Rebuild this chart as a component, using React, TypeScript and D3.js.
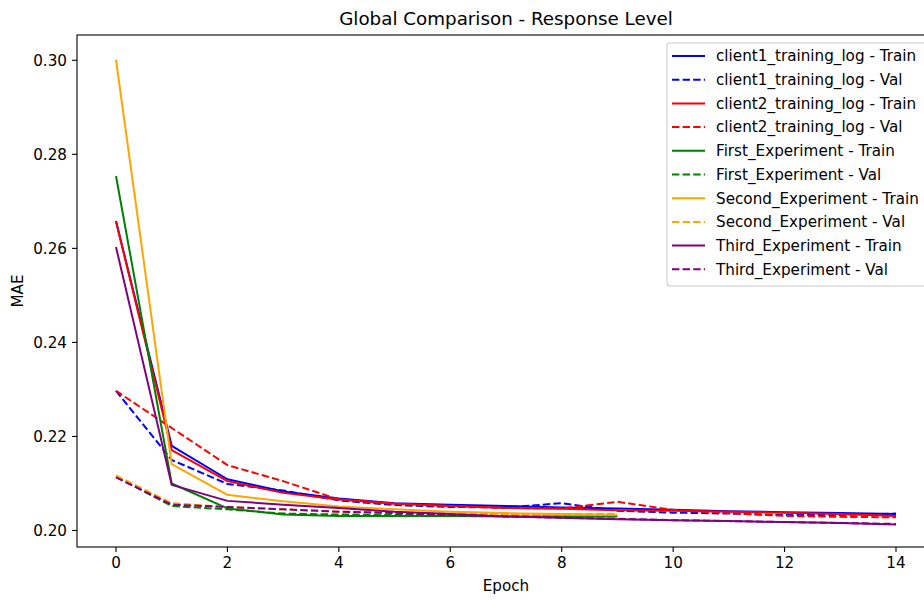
import React from "react";
import * as d3 from "d3";

const epochs15 = d3.range(0, 15);
const epochs10 = d3.range(0, 10);

const client1Train = [0.2658, 0.2180, 0.2109, 0.2083, 0.2068, 0.2058, 0.2055, 0.2052, 0.2049, 0.2047, 0.2044, 0.2041, 0.2039, 0.2037, 0.2035];
const client1Val = [0.2297, 0.2150, 0.2099, 0.2085, 0.2064, 0.2054, 0.2050, 0.2049, 0.2058, 0.2042, 0.2038, 0.2036, 0.2033, 0.2033, 0.2036];
const client2Train = [0.2657, 0.2171, 0.2105, 0.2080, 0.2066, 0.2057, 0.2052, 0.2048, 0.2046, 0.2043, 0.2042, 0.2040, 0.2038, 0.2035, 0.2031];
const client2Val = [0.2297, 0.2218, 0.2139, 0.2105, 0.2066, 0.2057, 0.2052, 0.2048, 0.2047, 0.2061, 0.2044, 0.2037, 0.2031, 0.2029, 0.2028];
const firstTrain = [0.2754, 0.2100, 0.2047, 0.2034, 0.2031, 0.2031, 0.2031, 0.2030, 0.2030, 0.2030];
const firstVal = [0.2114, 0.2052, 0.2045, 0.2036, 0.2034, 0.2033, 0.2033, 0.2034, 0.2034, 0.2034];
const secondTrain = [0.3001, 0.2141, 0.2076, 0.2062, 0.2051, 0.2045, 0.2040, 0.2037, 0.2035, 0.2033];
const secondVal = [0.2117, 0.2058, 0.2050, 0.2045, 0.2040, 0.2038, 0.2036, 0.2035, 0.2034, 0.2034];
const thirdTrain = [0.2603, 0.2097, 0.2063, 0.2055, 0.2048, 0.2040, 0.2035, 0.2030, 0.2027, 0.2024, 0.2022, 0.2020, 0.2018, 0.2016, 0.2013];
const thirdVal = [0.2113, 0.2055, 0.2050, 0.2045, 0.2040, 0.2037, 0.2033, 0.2030, 0.2027, 0.2025, 0.2022, 0.2020, 0.2018, 0.2016, 0.2014];

const xTicks = [0, 2, 4, 6, 8, 10, 12, 14];
const yTicks = [0.2, 0.22, 0.24, 0.26, 0.28, 0.3];

const series = [
  { name: "client1_training_log - Train", color: "blue", dashed: false, x: epochs15, y: client1Train },
  { name: "client1_training_log - Val", color: "blue", dashed: true, x: epochs15, y: client1Val },
  { name: "client2_training_log - Train", color: "red", dashed: false, x: epochs15, y: client2Train },
  { name: "client2_training_log - Val", color: "red", dashed: true, x: epochs15, y: client2Val },
  { name: "First_Experiment - Train", color: "green", dashed: false, x: epochs10, y: firstTrain },
  { name: "First_Experiment - Val", color: "green", dashed: true, x: epochs10, y: firstVal },
  { name: "Second_Experiment - Train", color: "orange", dashed: false, x: epochs10, y: secondTrain },
  { name: "Second_Experiment - Val", color: "orange", dashed: true, x: epochs10, y: secondVal },
  { name: "Third_Experiment - Train", color: "purple", dashed: false, x: epochs15, y: thirdTrain },
  { name: "Third_Experiment - Val", color: "purple", dashed: true, x: epochs15, y: thirdVal },
];

const W = 924;
const H = 600;
const left = 77;
const right = 935;
const top = 35;
const bottom = 547;
const font = "DejaVu Sans, sans-serif";
const DASH = "7.4,3.2";
const FS = 15.2;

export default function App() {
  const x = d3.scaleLinear().domain([-0.7, 14.7]).range([left, right]);
  const y = d3.scaleLinear().domain([0.19649, 0.30538]).range([bottom, top]);
  const line = d3
    .line<[number, number]>()
    .x((d) => x(d[0]))
    .y((d) => y(d[1]));

  const legX = 667;
  const legY = 43;
  const rowH = 23.7;

  return (
    <svg
      width={W}
      height={H}
      style={{ position: "absolute", left: 0, top: 0, background: "white" }}
      fontFamily={font}
    >
      <rect x={0} y={0} width={W} height={H} fill="white" />
      <defs>
        <clipPath id="plot">
          <rect x={left} y={top} width={right - left} height={bottom - top} />
        </clipPath>
      </defs>
      <g clipPath="url(#plot)">
        {series.map((s) => (
          <path
            key={s.name}
            d={line(s.x.map((e, i) => [e, s.y[i]] as [number, number])) || ""}
            fill="none"
            stroke={s.color}
            strokeWidth={2}
            strokeDasharray={s.dashed ? DASH : undefined}
            strokeLinejoin="round"
          />
        ))}
      </g>
      {/* spines */}
      <rect x={left} y={top} width={right - left} height={bottom - top} fill="none" stroke="black" strokeWidth={1.1} />
      {/* x ticks */}
      {xTicks.map((t) => (
        <g key={"x" + t}>
          <line x1={x(t)} x2={x(t)} y1={bottom} y2={bottom + 5} stroke="black" strokeWidth={1.1} />
          <text x={x(t)} y={bottom + 21} textAnchor="middle" fontSize={FS} fill="black">
            {t}
          </text>
        </g>
      ))}
      {/* y ticks */}
      {yTicks.map((t) => (
        <g key={"y" + t}>
          <line x1={left - 5} x2={left} y1={y(t)} y2={y(t)} stroke="black" strokeWidth={1.1} />
          <text x={left - 10} y={y(t)} dy="0.35em" textAnchor="end" fontSize={FS} fill="black">
            {t.toFixed(2)}
          </text>
        </g>
      ))}
      <text x={(left + right) / 2} y={591} textAnchor="middle" fontSize={FS} fill="black">
        Epoch
      </text>
      <text
        transform={`translate(23,${(top + bottom) / 2}) rotate(-90)`}
        textAnchor="middle"
        fontSize={FS}
        fill="black"
      >
        MAE
      </text>
      <text x={(left + right) / 2} y={25} textAnchor="middle" fontSize={18.3} fill="black">
        Global Comparison - Response Level
      </text>
      {/* legend */}
      <rect
        x={legX}
        y={legY}
        width={300}
        height={243}
        rx={3}
        fill="white"
        fillOpacity={0.8}
        stroke="#cccccc"
        strokeWidth={1.1}
      />
      {series.map((s, i) => {
        const cy = legY + 13 + i * rowH;
        return (
          <g key={"leg" + s.name}>
            <line
              x1={legX + 5}
              x2={legX + 38}
              y1={cy}
              y2={cy}
              stroke={s.color}
              strokeWidth={2}
              strokeDasharray={s.dashed ? DASH : undefined}
            />
            <text x={legX + 49} y={cy} dy="0.35em" fontSize={FS} fill="black">
              {s.name}
            </text>
          </g>
        );
      })}
    </svg>
  );
}
